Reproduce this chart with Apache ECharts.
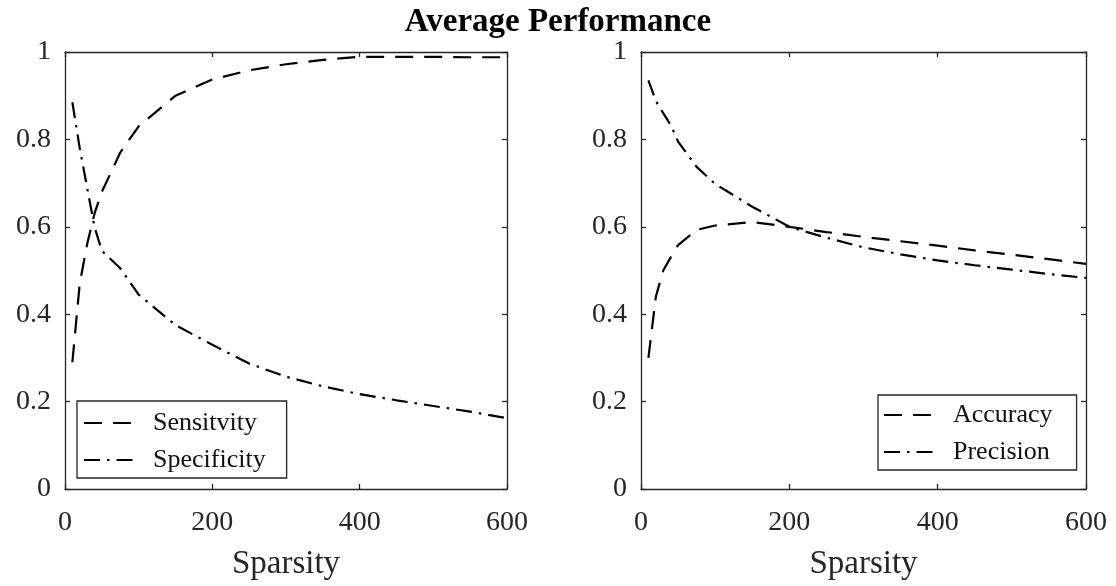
<!DOCTYPE html>
<html>
<head>
<meta charset="utf-8">
<script src="https://cdn.jsdelivr.net/npm/echarts@6/dist/echarts.min.js"></script>
<style>html,body{margin:0;padding:0;background:#fff}#c{width:1116px;height:586px}</style>
</head>
<body>
<div id="c"></div>
<script>
// ---- data ----
const titleText = 'Average Performance';
const xLabel = 'Sparsity';
const xTicks = [0, 200, 400, 600];
const yTicks = [0, 0.2, 0.4, 0.6, 0.8, 1];

const sensX = [10, 20, 30, 40, 50, 75, 100, 150, 200, 250, 300, 350, 400, 450, 500, 550, 600];
const sensitivity = [0.29, 0.47, 0.56, 0.63, 0.68, 0.77, 0.83, 0.90, 0.937, 0.958, 0.972, 0.982, 0.989, 0.989, 0.989, 0.988, 0.988];
const specX = [10, 20, 30, 40, 50, 75, 100, 150, 200, 250, 300, 350, 400, 450, 500, 550, 600];
const specificity = [0.885, 0.78, 0.69, 0.60, 0.545, 0.505, 0.445, 0.375, 0.33, 0.287, 0.257, 0.235, 0.217, 0.203, 0.19, 0.177, 0.162];

const accX = [10, 20, 30, 40, 50, 75, 100, 150, 200, 250, 300, 350, 400, 450, 500, 550, 600];
const accuracy = [0.30, 0.44, 0.50, 0.53, 0.558, 0.593, 0.603, 0.611, 0.60, 0.588, 0.577, 0.567, 0.557, 0.546, 0.536, 0.526, 0.515];
const precX = [10, 20, 30, 40, 50, 75, 100, 150, 200, 250, 300, 350, 400, 450, 500, 550, 600];
const precision = [0.935, 0.888, 0.86, 0.833, 0.795, 0.737, 0.698, 0.646, 0.60, 0.575, 0.553, 0.537, 0.523, 0.512, 0.502, 0.492, 0.483];

const names = ['Sensitvity', 'Specificity', 'Accuracy', 'Precision'];

// ---- chart ----
const FONT = '"Liberation Serif", "Times New Roman", serif';
const AX = '#262626';
const DASH = [18, 11];
const DASHDOT = [16, 7, 2.5, 7];

function pairs(xs, ys) { return xs.map((x, i) => [x, ys[i]]); }

const grids = [
  {left: 65, right: 609, top: 52, bottom: 97},
  {left: 641, right: 30, top: 52, bottom: 97}
];

const axLine = {show: true, onZero: false, lineStyle: {color: AX, width: 1.3}};
const axTick = {show: true, inside: true, length: 5, lineStyle: {color: AX, width: 1.3}};

const xAxes = [], yAxes = [];
grids.forEach((g, gi) => {
  xAxes.push({
    gridIndex: gi, type: 'value', min: 0, max: 600, interval: 200, position: 'bottom',
    name: xLabel, nameLocation: 'middle', nameGap: 59,
    nameTextStyle: {fontFamily: FONT, fontSize: 33, color: AX},
    axisLine: axLine, axisTick: axTick,
    axisLabel: {fontFamily: FONT, fontSize: 28, color: AX, margin: 20},
    splitLine: {show: false}
  });
  xAxes.push({
    gridIndex: gi, type: 'value', min: 0, max: 600, interval: 200, position: 'top',
    axisLine: axLine, axisTick: axTick,
    axisLabel: {show: false}, splitLine: {show: false}
  });
  yAxes.push({
    gridIndex: gi, type: 'value', min: 0, max: 1, interval: 0.2, position: 'left',
    axisLine: axLine, axisTick: axTick,
    axisLabel: {fontFamily: FONT, fontSize: 28, color: AX, margin: 14,
      formatter: v => String(+v.toFixed(1))},
    splitLine: {show: false}
  });
  yAxes.push({
    gridIndex: gi, type: 'value', min: 0, max: 1, interval: 0.2, position: 'right',
    axisLine: axLine, axisTick: axTick,
    axisLabel: {show: false}, splitLine: {show: false}
  });
});

function line(name, xs, ys, gi, dash) {
  return {
    name, type: 'line', xAxisIndex: gi * 2, yAxisIndex: gi * 2,
    data: pairs(xs, ys), symbol: 'none', smooth: false, animation: false,
    lineStyle: {color: '#000', width: 2.2, type: dash},
    itemStyle: {color: '#000'}
  };
}

const legendBase = {
  orient: 'vertical', itemWidth: 55, itemHeight: 14, itemGap: 11,
  backgroundColor: '#fff', borderColor: AX, borderWidth: 1.3, borderRadius: 0,
  itemStyle: {color: 'rgba(0,0,0,0)', borderColor: 'rgba(0,0,0,0)', borderWidth: 0},
  textStyle: {fontFamily: FONT, fontSize: 26, color: '#111', lineHeight: 26, padding: [0, 0, 0, 9]}
};

const option = {
  backgroundColor: '#fff',
  animation: false,
  title: {text: titleText, left: 'center', top: 1,
    textStyle: {fontFamily: FONT, fontSize: 33, fontWeight: 'bold', color: '#000'}},
  grid: grids,
  xAxis: xAxes,
  yAxis: yAxes,
  legend: [
    Object.assign({}, legendBase, {data: [names[0], names[1]], left: 77, top: 401,
      padding: [9, 21, 5, 6]}),
    Object.assign({}, legendBase, {data: [names[2], names[3]], left: 878, top: 395,
      padding: [7, 24, 5, 5]})
  ],
  series: [
    line(names[0], sensX, sensitivity, 0, DASH),
    line(names[1], specX, specificity, 0, DASHDOT),
    line(names[2], accX, accuracy, 1, DASH),
    line(names[3], precX, precision, 1, DASHDOT)
  ]
};

const chart = echarts.init(document.getElementById('c'), null, {renderer: 'canvas'});
chart.setOption(option);
</script>
</body>
</html>
